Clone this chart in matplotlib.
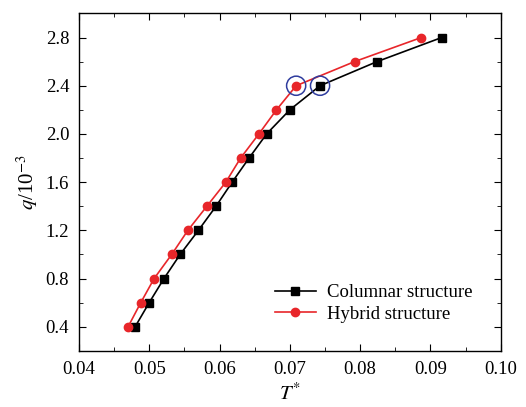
import matplotlib

matplotlib.use("Agg")
import matplotlib.pyplot as plt
from matplotlib.ticker import MultipleLocator

# q values (x10^-3) shared by both series
q = [0.4, 0.6, 0.8, 1.0, 1.2, 1.4, 1.6, 1.8, 2.0, 2.2, 2.4, 2.6, 2.8]
t_columnar = [0.0480, 0.0500, 0.0521, 0.0544, 0.0570, 0.0595, 0.0618,
              0.0642, 0.0667, 0.0700, 0.0743, 0.0824, 0.0916]
t_hybrid = [0.0470, 0.0488, 0.0507, 0.0532, 0.0555, 0.0582, 0.0609,
            0.0630, 0.0656, 0.0681, 0.0709, 0.0792, 0.0887]
# transition points marked with blue circles
mark_t = [0.0709, 0.0743]
mark_q = [2.4, 2.4]

plt.rcParams["font.family"] = "Liberation Serif"
plt.rcParams["mathtext.fontset"] = "stix"

fig = plt.figure(figsize=(5.26, 4.07), dpi=100)
ax = fig.add_axes([0.150, 0.138, 0.802, 0.829])

ax.plot(t_columnar, q, "-s", color="black", lw=1.2, ms=5.5,
        label="Columnar structure")
ax.plot(t_hybrid, q, "-o", color="#e8262a", mec="#e8262a", lw=1.2, ms=6,
        label="Hybrid structure")
ax.scatter(mark_t, mark_q, s=190, facecolors="none", edgecolors="#2f3c9e",
           linewidths=1.1, zorder=5)

ax.set_xlim(0.04, 0.10)
ax.set_ylim(0.2, 3.0)
ax.xaxis.set_major_locator(MultipleLocator(0.01))
ax.xaxis.set_minor_locator(MultipleLocator(0.005))
ax.yaxis.set_major_locator(MultipleLocator(0.4))
ax.yaxis.set_minor_locator(MultipleLocator(0.2))
ax.xaxis.set_major_formatter(lambda v, p: f"{v:.2f}")
ax.yaxis.set_major_formatter(lambda v, p: f"{v:.1f}")
ax.tick_params(which="both", direction="in", top=True, right=True,
               labelsize=13.5, pad=7)
ax.tick_params(which="major", length=5)
ax.tick_params(which="minor", length=3)
for s in ax.spines.values():
    s.set_linewidth(1.0)

ax.set_xlabel("$T^{*}$", fontsize=15, labelpad=4)
ax.set_ylabel("$q$/10$^{-3}$", fontsize=15, labelpad=4)

ax.legend(frameon=False, loc="upper left", fontsize=13.5,
          bbox_to_anchor=(0.464, 0.198), borderaxespad=0, borderpad=0,
          handlelength=2.2, handletextpad=0.6, labelspacing=0.25)

fig.savefig("out.png", dpi=100)
